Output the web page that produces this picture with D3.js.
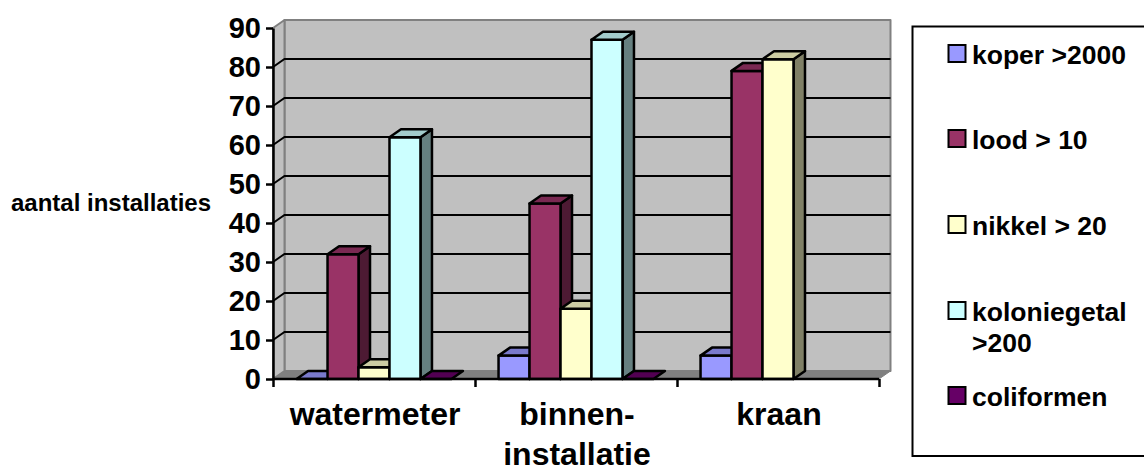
<!DOCTYPE html>
<html><head><meta charset="utf-8">
<script src="https://d3js.org/d3.v7.min.js"></script>
<style>html,body{margin:0;padding:0;background:#fff;overflow:hidden}svg{display:block}text{font-family:"Liberation Sans",Arial,sans-serif;font-weight:bold;fill:#000}</style>
</head><body><svg id="c" width="1144" height="466"></svg>
<script>
const categories = ["watermeter", "binnen-installatie", "kraan"];
const categoryLines = [["watermeter"], ["binnen-", "installatie"], ["kraan"]];
const seriesNames = ["koper >2000", "lood > 10", "nikkel > 20", "koloniegetal >200", "coliformen"];
const legendLines = [["koper >2000"], ["lood > 10"], ["nikkel > 20"], ["koloniegetal", ">200"], ["coliformen"]];
const koper = [0, 6, 6];
const lood = [32, 45, 79];
const nikkel = [3, 18, 82];
const koloniegetal = [62, 87, null];
const coliformen = [0, 0, null];
const seriesValues = [koper, lood, nikkel, koloniegetal, coliformen];
const colors = ["#9999FF", "#993366", "#FFFFCC", "#CCFFFF", "#660066"];
const yTicks = d3.range(0, 100, 10);

const svg = d3.select("#c");
const L = 273, R = 879, B = 379, T = 28, DX = 11.5, DY = 8;
const x = d3.scaleBand().domain(categories).range([L, R]);
const y = d3.scaleLinear().domain([0, 90]).range([B, T]);
const xs = d3.scaleBand().domain(seriesNames).range([0, x.bandwidth()]).paddingOuter(0.76).paddingInner(0);
const poly = (pts, fill, stroke, sw) => svg.append("polygon")
  .attr("points", pts.map(p => p.join(",")).join(" "))
  .attr("fill", fill).attr("stroke", stroke).attr("stroke-width", sw).attr("stroke-linejoin", "round");

// walls
poly([[L + DX, T - DY], [R + DX, T - DY], [R + DX, B - DY], [L + DX, B - DY]], "#C0C0C0", "#808080", 2);
poly([[L, T], [L + DX, T - DY], [L + DX, B - DY], [L, B]], "#C0C0C0", "#808080", 2);
// gridlines
yTicks.filter(v => v > 0 && v < 90).forEach(v => {
  svg.append("path").attr("fill", "none").attr("stroke", "#000").attr("stroke-width", 2)
    .attr("d", `M${L},${y(v)}L${L + DX},${y(v) - DY}L${R + DX},${y(v) - DY}`);
});
// floor
poly([[L, B], [L + DX, B - DY], [R + DX, B - DY], [R, B]], "#808080", "#808080", 1);

// bars
categories.forEach((c, ci) => {
  seriesNames.forEach((s, si) => {
    const v = seriesValues[si][ci];
    if (v === null) return;
    const x0 = x(c) + xs(s), x1 = x0 + xs.bandwidth(), yt = y(v), col = d3.color(colors[si]);
    const shade = f => d3.rgb(col.r * f, col.g * f, col.b * f).formatHex();
    if (v > 0) {
      poly([[x1, yt], [x1 + DX, yt - DY], [x1 + DX, B - DY], [x1, B]], shade(0.5), "#000", 2.5);
      poly([[x0, B], [x1, B], [x1, yt], [x0, yt]], colors[si], "#000", 2.5);
    }
    poly([[x0, yt], [x0 + DX, yt - DY], [x1 + DX, yt - DY], [x1, yt]], shade(0.8), "#000", 2.5);
  });
});

// y axis
const yAxis = svg.append("g").attr("transform", `translate(${L},0)`)
  .call(d3.axisLeft(y).tickValues(yTicks).tickSize(7).tickPadding(5).tickSizeOuter(0));
yAxis.selectAll("path,line").attr("stroke", "#000").attr("stroke-width", 2.5);
yAxis.selectAll("text").attr("font-size", 29).attr("font-family", null);
// x axis
const xAxis = svg.append("g").attr("transform", `translate(0,${B})`)
  .call(d3.axisBottom(d3.scalePoint().domain(d3.range(4)).range([L, R])).tickSize(8).tickFormat(""));
xAxis.selectAll("path,line").attr("stroke", "#000").attr("stroke-width", 2.5);
xAxis.select("path").attr("d", `M${L},0H${R}`);

categories.forEach((c, i) => {
  const t = svg.append("text").attr("text-anchor", "middle").attr("font-size", 32);
  categoryLines[i].forEach((l, j) => t.append("tspan").attr("x", x(c) + x.bandwidth() / 2 + 1).attr("y", 425 + j * 40).text(l));
});

svg.append("text").attr("x", 111).attr("y", 211).attr("text-anchor", "middle").attr("font-size", 24).text("aantal installaties");

// legend
svg.append("rect").attr("x", 912.5).attr("y", 26.5).attr("width", 240).attr("height", 429.5)
  .attr("fill", "#fff").attr("stroke", "#000").attr("stroke-width", 2);
const rowY = [54, 139, 225, 311, 396];
seriesNames.forEach((s, i) => {
  svg.append("rect").attr("x", 948.5).attr("y", rowY[i] - 9).attr("width", 17).attr("height", 17)
    .attr("fill", colors[i]).attr("stroke", "#000").attr("stroke-width", 2);
  legendLines[i].forEach((l, j) => svg.append("text").attr("x", 972).attr("y", rowY[i] + 10 + j * 31).attr("font-size", 26.5).text(l));
});
</script></body></html>
